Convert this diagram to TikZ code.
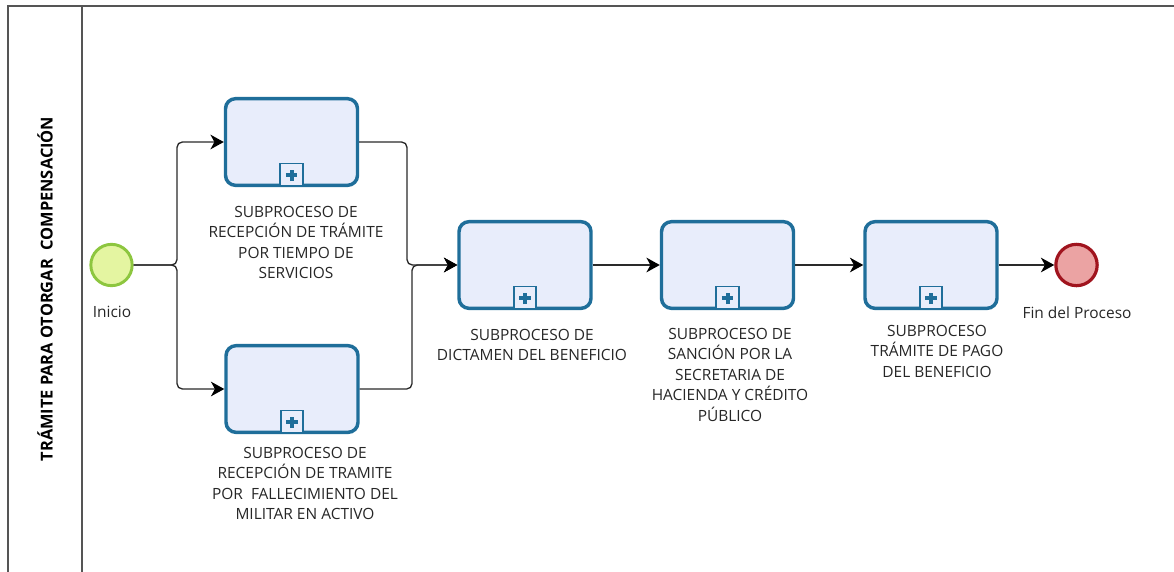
\documentclass[tikz,border=0pt]{standalone}
\usepackage{fontspec}
\setmainfont{Open Sans}
\usetikzlibrary{arrows.meta}
\definecolor{taskblue}{HTML}{1F6E9A}
\definecolor{taskfill}{HTML}{E8EDFB}
\definecolor{startfill}{HTML}{E4F5A1}
\definecolor{startline}{HTML}{8DC63F}
\definecolor{endfill}{HTML}{EBA3A3}
\definecolor{endline}{HTML}{A0141E}
\definecolor{poolline}{HTML}{555555}
\definecolor{flowline}{HTML}{2A2A2A}
\definecolor{labeltext}{HTML}{262626}

\begin{document}
\begin{tikzpicture}[x=0.75pt,y=-0.75pt,
  task/.style={draw=taskblue, fill=taskfill, line width=2.6pt, rounded corners=7.5pt,
    minimum width=99pt, minimum height=65pt, inner sep=0pt},
  marker/.style={draw=taskblue, fill=taskfill, line width=1.4pt, minimum size=17pt,
    inner sep=0pt, anchor=south},
  startev/.style={circle, draw=startline, fill=startfill, line width=2.2pt,
    minimum size=31pt, inner sep=0pt},
  endev/.style={circle, draw=endline, fill=endfill, line width=2.4pt,
    minimum size=31pt, inner sep=0pt},
  lbl/.style={align=center, font=\fontsize{11.6}{15.3}\selectfont, text=labeltext,
    inner sep=0pt, anchor=north},
  flow/.style={draw=flowline, line width=1pt, rounded corners=4pt,
    -{Stealth[length=10pt,width=11pt,inset=3pt,color=black]}},
  pool/.style={draw=poolline, line width=1.5pt}]

\useasboundingbox (0,0) rectangle (1174,571);

% pool and lane frame
\draw[pool] (8,580) -- (8,6) -- (1185,6);
\draw[pool] (82,6) -- (82,580);
\node[rotate=90, font=\bfseries\fontsize{12.3}{14}\selectfont, text=black] (lane)
  at (45,289) {TRÁMITE PARA OTORGAR\ \ COMPENSACIÓN};

% events
\node[startev] (start) at (111.5,265) {};
\node[endev] (finish) at (1076.5,265) {};

% sub-process tasks
\node[task] (t1) at (291.5,142) {};
\node[task] (t2) at (292,389) {};
\node[task] (t3) at (525,265) {};
\node[task] (t4) at (727.5,265) {};
\node[task] (t5) at (931,265) {};

% collapsed sub-process markers
\foreach \t in {t1,t2,t3,t4,t5}{
  \node[marker] (\t-m) at (\t.south) {};
  \draw[taskblue, line width=3pt] ([xshift=-4.2pt,yshift=-0.5pt]\t-m.center) -- ([xshift=4.2pt,yshift=-0.5pt]\t-m.center);
  \draw[taskblue, line width=3pt] ([yshift=-4.7pt]\t-m.center) -- ([yshift=3.7pt]\t-m.center);
}

% labels
\node[lbl] (start-l) at (112,306) {Inicio};
\node[lbl] (finish-l) at (1077,306) {Fin del Proceso};
\node[lbl] (t1-l) at (296,206) {SUBPROCESO DE\\RECEPCIÓN DE TRÁMITE\\POR TIEMPO DE\\SERVICIOS};
\node[lbl] (t2-l) at (305,447) {SUBPROCESO DE\\RECEPCIÓN DE TRAMITE\\POR\ \ FALLECIMIENTO DEL\\MILITAR EN ACTIVO};
\node[lbl] (t3-l) at (532,329) {SUBPROCESO DE\\DICTAMEN DEL BENEFICIO};
\node[lbl] (t4-l) at (730,328) {SUBPROCESO DE\\SANCIÓN POR LA\\SECRETARIA DE\\HACIENDA Y CRÉDITO\\PÚBLICO};
\node[lbl] (t5-l) at (937,325) {SUBPROCESO\\TRÁMITE DE PAGO\\DEL BENEFICIO};

% sequence flows
\draw[flow] (start) -- (177,265) |- (t1);
\draw[flow] (start) -- (177,265) |- (t2);
\draw[flow] (t1) -| (407,265) -- (t3);
\draw[flow] (t2) -| (412,265) -- (t3);
\draw[flow] (t3) -- (t4);
\draw[flow] (t4) -- (t5);
\draw[flow] (t5) -- (finish);
\end{tikzpicture}
\end{document}
